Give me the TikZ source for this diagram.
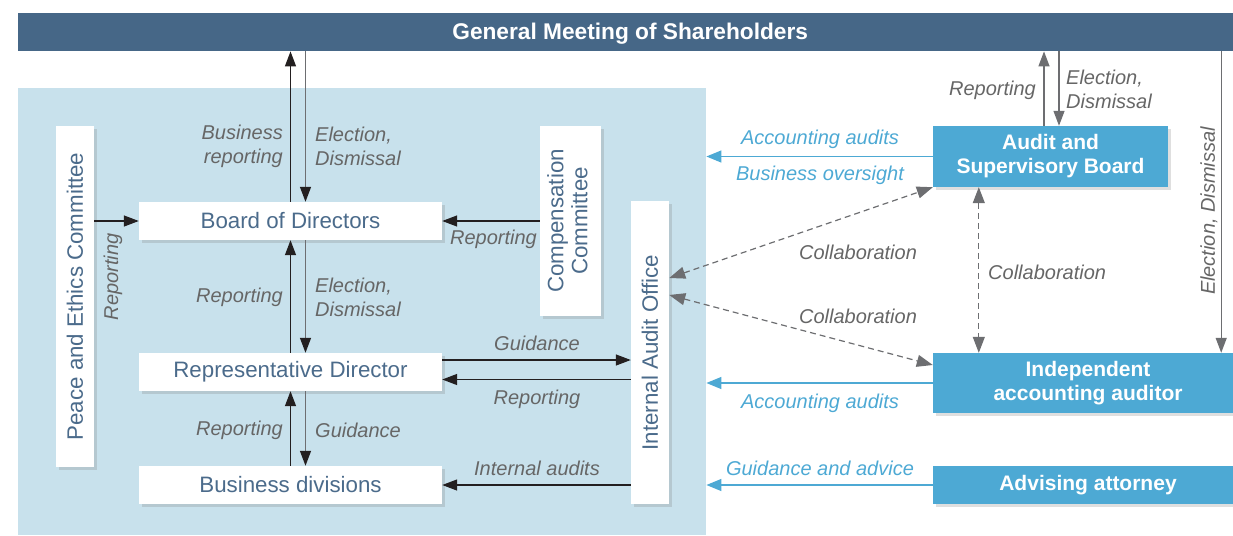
\documentclass[tikz,border=0pt]{standalone}
\usepackage{fontspec}
\setmainfont{Liberation Sans}
\usetikzlibrary{arrows.meta,shadows,calc}
\definecolor{barblue}{HTML}{466787}
\definecolor{panelblue}{HTML}{C8E1EC}
\definecolor{boxtext}{HTML}{4B6B8B}
\definecolor{labgray}{HTML}{666666}
\definecolor{cyanbox}{HTML}{4DA9D4}
\definecolor{darkline}{HTML}{231F20}
\definecolor{grayline}{HTML}{6D6E71}
\tikzset{
  boxshadow/.style={drop shadow={shadow xshift=2.5pt,shadow yshift=-2.5pt,opacity=0.25}},
  wbox/.style={fill=white, text=boxtext, inner sep=0pt,
    font=\fontsize{22.3}{24}\selectfont, boxshadow},
  cbox/.style={fill=cyanbox, text=white, inner sep=0pt, align=center,
    font=\bfseries\fontsize{21}{24}\selectfont, boxshadow},
  lab/.style={text=labgray, font=\itshape\fontsize{20}{24}\selectfont, inner sep=0pt},
  clab/.style={lab, text=cyanbox},
  darr/.style={draw=darkline, line width=1.3pt, -{Triangle[length=15pt,width=11pt]}},
  garr/.style={draw=grayline, line width=1.3pt, -{Triangle[length=15pt,width=11pt,color=darkline]}},
  gearr/.style={draw=grayline, line width=1.3pt, -{Triangle[length=15pt,width=11pt]}},
  carr/.style={draw=cyanbox, line width=1.3pt, -{Triangle[length=15pt,width=12pt]}},
  dasharr/.style={draw=grayline, line width=1.2pt, dash pattern=on 6pt off 4pt,
    {Triangle[length=16pt,width=12pt]}-{Triangle[length=16pt,width=12pt]}},
}
\begin{document}
\begin{tikzpicture}[x=1pt,y=-1pt]
\useasboundingbox (0,0) rectangle (1233,535);
% background panel and top bar
\node[fill=panelblue, minimum width=688, minimum height=447, inner sep=0pt, anchor=north west] (panel) at (18,88) {};
\node[fill=barblue, minimum width=1224, minimum height=38, inner sep=0pt, anchor=north west] (gms) at (18,13) {};
\node[text=white, inner sep=0pt, font=\bfseries\fontsize{22.7}{24}\selectfont] (gmst) at ($(gms.center)+(0,1.5)$) {General Meeting of Shareholders};
% white boxes
\node[wbox, minimum width=303, minimum height=38] (bod) at (290.5,221) {Board of Directors};
\node[wbox, minimum width=303, minimum height=38] (rd) at (290.5,372) {Representative Director};
\node[wbox, minimum width=303, minimum height=38] (bd) at (290.5,485) {Business divisions};
\node[wbox, minimum width=38, minimum height=341] (pec) at (75,296.5) {\rotatebox{90}{Peace and Ethics Committee}};
\node[wbox, minimum width=61, minimum height=190] (cc) at (570.5,221)
  {\rotatebox{90}{\begin{tabular}{@{}c@{}}Compensation\\Committee\end{tabular}}};
\node[wbox, minimum width=38, minimum height=303] (iao) at (650,352.5) {\rotatebox{90}{Internal Audit Office}};
% blue boxes
\node[cbox, minimum width=235, minimum height=61] (asb) at (1050.5,156.5) {Audit and\\Supervisory Board};
\node[cbox, minimum width=310, minimum height=60] (iaa) at (1088,383) {Independent\\accounting auditor};
\node[cbox, minimum width=310, minimum height=38] (aa) at (1088,485) {Advising attorney};
% vertical arrows left column
\draw[darr] (bod.north) -- (gms.south -| bod.north);
\draw[garr] ($(gms.south -| bod.north)+(15,0)$) -- ($(bod.north)+(15,0)$);
\draw[darr] (rd.north) -- (bod.south);
\draw[garr] ($(bod.south)+(15,0)$) -- ($(rd.north)+(15,0)$);
\draw[darr] (bd.north) -- (rd.south);
\draw[garr] ($(rd.south)+(15,0)$) -- ($(bd.north)+(15,0)$);
% horizontal arrows
\draw[darr] (pec.east |- bod.west) -- (bod.west);
\draw[darr] (cc.west) -- (bod.east);
\draw[darr] ($(rd.east)+(0,-12)$) -- ($(rd.east -| iao.west)+(0,-12)$);
\draw[darr] ($(rd.east -| iao.west)+(0,7.5)$) -- ($(rd.east)+(0,7.5)$);
\draw[darr] (bd.east -| iao.west) -- (bd.east);
% cyan arrows
\draw[carr] (asb.west) -- (asb.west -| panel.east);
\draw[carr] (iaa.west) -- (iaa.west -| panel.east);
\draw[carr] (aa.west) -- (aa.west -| panel.east);
% dashed collaboration
\draw[dasharr] ($(iao.east)+(0,-74.5)$) -- (asb.south west);
\draw[dasharr] ($(iao.east)+(0,-57.5)$) -- ($(iaa.west)+(0,-18)$);
\draw[dasharr] ($(asb.south west)+(46,0)$) -- ($(iaa.north west)+(46,0)$);
% right top arrows
\draw[gearr] ($(asb.north)+(-6.5,0)$) -- ($(gms.south -| asb.north)+(-6.5,0)$);
\draw[gearr] ($(gms.south -| asb.north)+(8.5,0)$) -- ($(asb.north)+(8.5,0)$);
\draw[gearr] ($(gms.south -| iaa.north east)+(-22,0)$) -- ($(iaa.north east)+(-22,0)$);
% labels
\node[lab, anchor=east, align=right] (l1) at (283,146.5) {Business\\reporting};
\node[lab, anchor=west, align=left] (l2) at (315,146.5) {Election,\\Dismissal};
\node[lab, anchor=east] (l3) at (283,297) {Reporting};
\node[lab, anchor=west, align=left] (l4) at (315,297.5) {Election,\\Dismissal};
\node[lab, anchor=east] (l5) at (283,430) {Reporting};
\node[lab, anchor=west] (l6) at (315,430) {Guidance};
\node[lab, rotate=90] (l7) at (113,277) {Reporting};
\node[lab] (l8) at (493.5,239) {Reporting};
\node[lab] (l9) at (537,343) {Guidance};
\node[lab] (l10) at (537,399) {Reporting};
\node[lab] (l11) at (537,468) {Internal audits};
\node[clab] (l12) at (820,139) {Accounting audits};
\node[clab] (l13) at (820,175) {Business oversight};
\node[clab] (l14) at (820,403) {Accounting audits};
\node[clab] (l15) at (820,468) {Guidance and advice};
\node[lab] (l16) at (858,252) {Collaboration};
\node[lab] (l17) at (858,316) {Collaboration};
\node[lab, anchor=west] (l18) at (988,272) {Collaboration};
\node[lab, anchor=east] (l19) at (1036,90) {Reporting};
\node[lab, anchor=west, align=left] (l20) at (1066,89.5) {Election,\\Dismissal};
\node[lab, rotate=90] (l21) at (1209,211) {Election, Dismissal};
\end{tikzpicture}
\end{document}
